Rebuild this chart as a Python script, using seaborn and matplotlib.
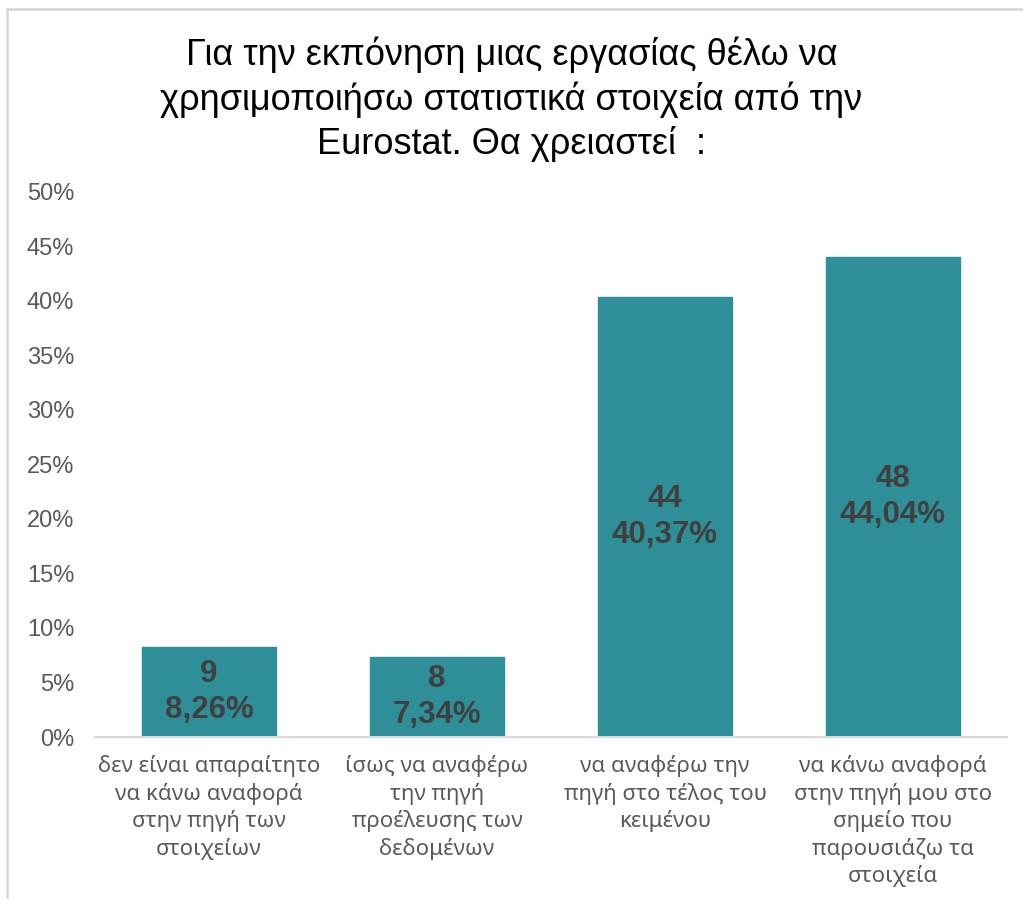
import matplotlib
matplotlib.use("Agg")
import matplotlib.pyplot as plt
import seaborn as sns
import pandas as pd
from matplotlib.lines import Line2D

categories = [
    "δεν είναι απαραίτητο\nνα κάνω αναφορά\nστην πηγή των\nστοιχείων",
    "ίσως να αναφέρω\nτην πηγή\nπροέλευσης των\nδεδομένων",
    "να αναφέρω την\nπηγή στο τέλος του\nκειμένου",
    "να κάνω αναφορά\nστην πηγή μου στο\nσημείο που\nπαρουσιάζω τα\nστοιχεία",
]
counts = [9, 8, 44, 48]
shares = [0.0826, 0.0734, 0.4037, 0.4404]
share_labels = ["8,26%", "7,34%", "40,37%", "44,04%"]
yticks = [0, 0.05, 0.10, 0.15, 0.20, 0.25, 0.30, 0.35, 0.40, 0.45, 0.50]
ytick_labels = ["0%", "5%", "10%", "15%", "20%", "25%", "30%", "35%", "40%", "45%", "50%"]
title = "Για την εκπόνηση μιας εργασίας θέλω να\nχρησιμοποιήσω στατιστικά στοιχεία από την\nEurostat. Θα χρειαστεί  :"

sns.set_theme(style="white")
plt.rcParams["font.family"] = ["Liberation Sans", "DejaVu Sans"]

df = pd.DataFrame({"category": categories, "share": shares})

fig = plt.figure(figsize=(10.23, 8.99), dpi=100)
ax = fig.add_axes([95 / 1023, 1 - 737 / 899, (1007 - 95) / 1023, (737 - 192) / 899])

sns.barplot(data=df, x="category", y="share", color="#2E8F98", saturation=1,
            width=0.59, ax=ax)
for p in ax.patches:
    p.set_edgecolor("#2E8F98")

ax.set_ylim(0, 0.5)
ax.set_xlim(-0.5, 3.5)
ax.set_yticks(yticks)
ax.set_yticklabels(ytick_labels, color="#595959", fontsize=17)
ax.set_xticks(range(len(categories)))
ax.set_xticklabels(categories, color="#595959", fontsize=16,
                   family=["Noto Sans", "DejaVu Sans"], linespacing=1.33)
ax.tick_params(axis="both", length=0)
ax.tick_params(axis="y", pad=15)
ax.tick_params(axis="x", pad=13)
ax.set_xlabel("")
ax.set_ylabel("")
for side in ["top", "right", "left"]:
    ax.spines[side].set_visible(False)
ax.spines["bottom"].set_color("#D9D9D9")
ax.spines["bottom"].set_linewidth(1.5)

for i, (c, s, lab) in enumerate(zip(counts, shares, share_labels)):
    ax.text(i, s / 2, f"{c}\n{lab}", ha="center", va="center", fontsize=22.5,
            fontweight="bold", color="#404040", linespacing=1.3)

fig.text(0.5, 1 - 99 / 899, title, ha="center", va="center", fontsize=26,
         color="#000000", linespacing=1.3)

# outer frame edges along the left and top
fig.add_artist(Line2D([7 / 1023, 7 / 1023], [0, 1 - 9 / 899], transform=fig.transFigure,
                      color="#D9D9D9", linewidth=2))
fig.add_artist(Line2D([7 / 1023, 1], [1 - 9 / 899, 1 - 9 / 899], transform=fig.transFigure,
                      color="#D9D9D9", linewidth=2))

fig.savefig("out.png", dpi=100, facecolor="white")
